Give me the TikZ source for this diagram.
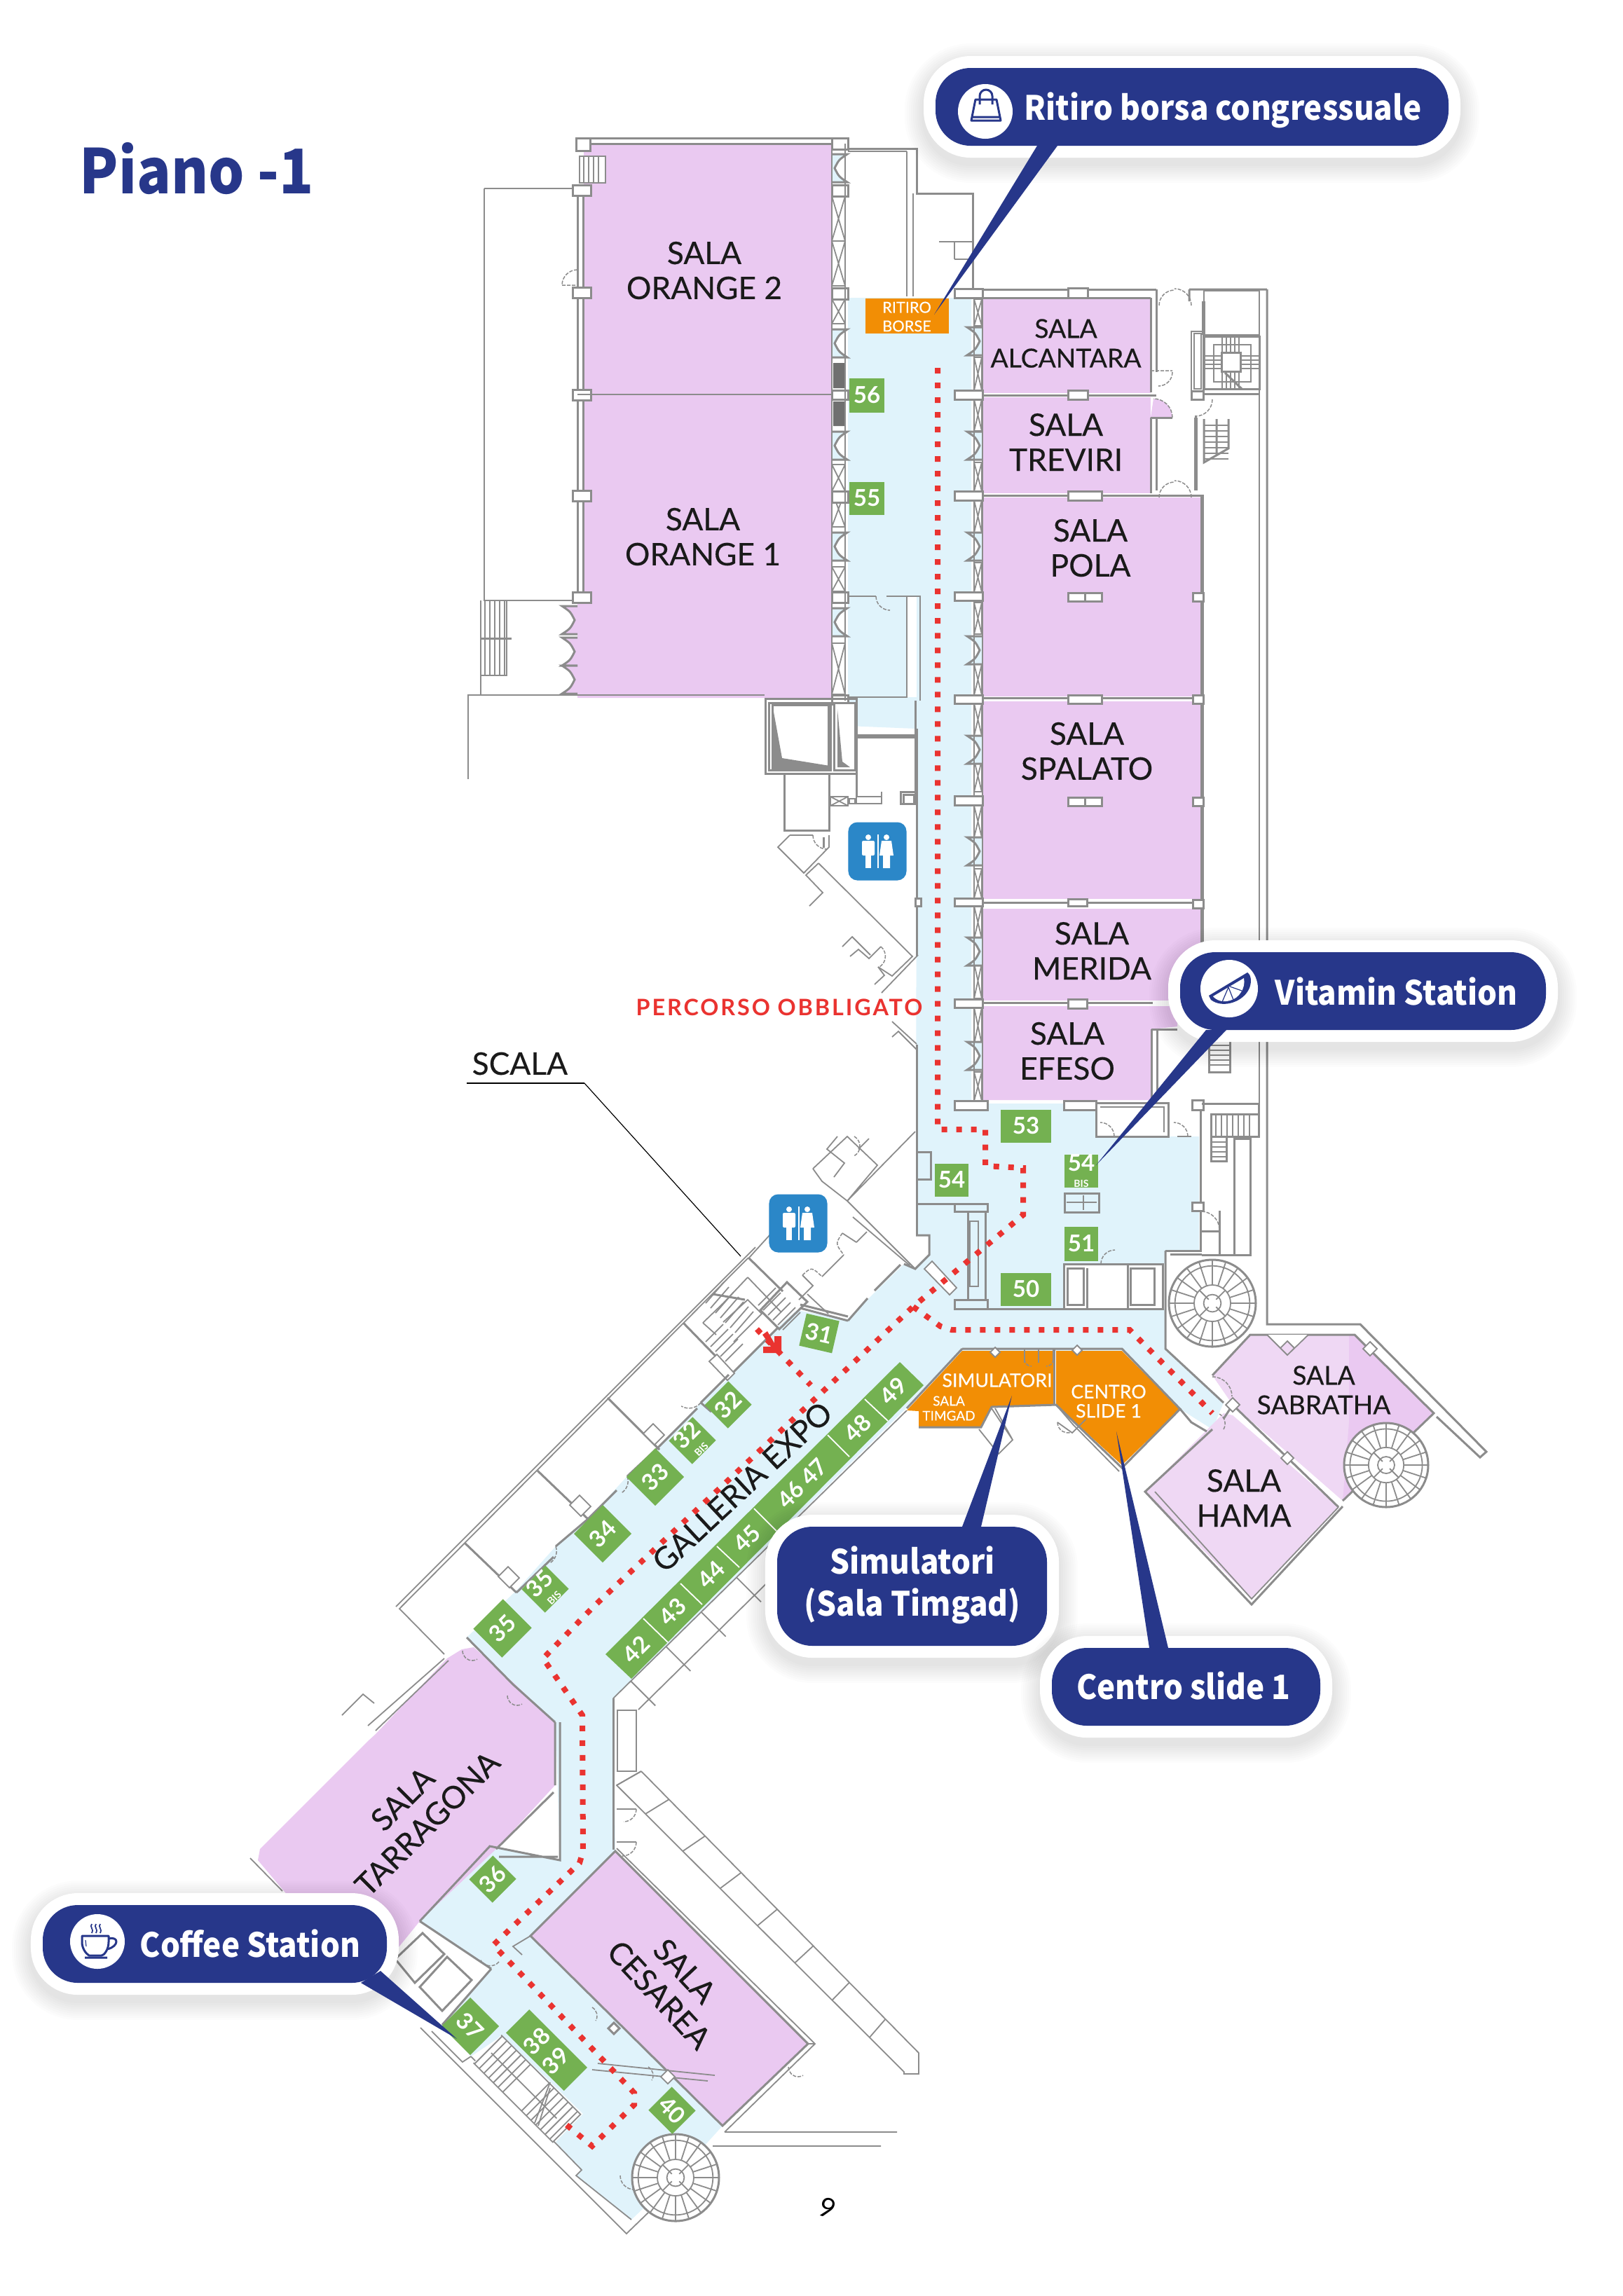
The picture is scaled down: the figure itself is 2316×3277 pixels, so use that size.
\documentclass[tikz,border=0pt]{standalone}
\usepackage{fontspec}
\usetikzlibrary{calc}
\newfontfamily\roomfamily[FakeBold=.3]{Lato}
\newfontfamily\plainfamily{Lato}
\newfontfamily\pillfamily[FakeStretch=.92]{Noto Sans CJK JP}
\definecolor{navyPill}{HTML}{27378A}
\definecolor{roomPurple}{HTML}{EAC9F1}
\definecolor{roomLight}{HTML}{EFD8F4}
\definecolor{hallBlue}{HTML}{E0F3FB}
\definecolor{tagGreen}{HTML}{74B151}
\definecolor{standOrange}{HTML}{F28E05}
\definecolor{routeRed}{HTML}{EA3330}
\definecolor{wcBlue}{HTML}{2B87C8}
\definecolor{wallGray}{HTML}{8C8C8C}
\definecolor{wallDark}{HTML}{707070}
\definecolor{inkBlack}{HTML}{1A1A1A}
\newcommand{\roomfont}{\roomfamily\fontsize{12.6}{14.2}\selectfont}
\newcommand{\roomsmall}{\roomfamily\fontsize{10.6}{12}\selectfont}
\newcommand{\tagfont}{\plainfamily\bfseries\fontsize{9.4}{9.4}\selectfont}
\newcommand{\pillfont}{\pillfamily\bfseries\fontsize{13.6}{17}\selectfont}
\tikzset{
  room/.style={fill=roomPurple},
  roomlabel/.style={font=\roomfont, align=center, text=inkBlack, inner sep=0pt},
  smalllabel/.style={font=\roomsmall, align=center, text=inkBlack, inner sep=0pt},
  standlabel/.style={font=\roomfamily\fontsize{6.2}{7.6}\selectfont, align=center, text=white, inner sep=0pt},
  tag/.style={fill=tagGreen, text=white, font=\tagfont, align=center, inner sep=0pt, minimum width=.48cm, minimum height=.47cm},
  tagtext/.style={text=white, font=\tagfont, inner sep=0pt},
  wall/.style={draw=wallGray, line width=.03cm},
  thinwall/.style={draw=wallGray, line width=.018cm},
  thickwall/.style={draw=wallGray, line width=.05cm},
  doorline/.style={draw=wallGray, line width=.015cm, dash pattern=on .05cm off .02cm},
  route/.style={draw=routeRed, line width=.08cm, dash pattern=on .08cm off .13cm},
  pilltext/.style={font=\pillfont, text=white, align=center, inner sep=0pt},
  icon/.style={draw=navyPill, line width=.03cm, line join=round},
  wcbox/.style={fill=wcBlue, rounded corners=.13cm, minimum size=.83cm, inner sep=0pt},
}
\newcommand{\xpanel}[4]{\draw[thinwall] (#1,#2) rectangle (#3,#4) (#1,#2) -- (#3,#4) (#1,#4) -- (#3,#2);}
\newcommand{\pier}[4]{\draw[wall,fill=white] (#1,#2) rectangle (#3,#4);}
\newcommand{\batdoor}[4]{\draw[wall,fill=#4] (#1,#2-20) -- (#1+#3*22,#2-20) .. controls (#1+#3*10,#2-12) .. (#1+#3*4,#2) .. controls (#1+#3*10,#2+12) .. (#1+#3*22,#2+20) -- (#1,#2+20);}
\newcommand{\spiralstair}[3]{%
  \draw[wall,fill=white] (#1,#2) circle (#3);
  \draw[thinwall] (#1,#2) circle (#3*.86) (#1,#2) circle (#3*.42) (#1,#2) circle (#3*.2);
  \foreach \ang in {0,18,...,342} {\draw[thinwall] ($(#1,#2)+(\ang:#3*.42)$) -- ($(#1,#2)+(\ang:#3)$);}
  \foreach \ang in {0,90,180,270} {\draw[thinwall] ($(#1,#2)+(\ang+45:#3*.12)$) -- ($(#1,#2)+(\ang+45:#3*.42)$);}
}
% blurred shadow and white ring of a label
\newcommand{\pillback}[5]{%
  \foreach \s in {40,46,...,88} {\draw[black,opacity=.011,line width=\s*.01cm,rounded corners=#5*.01cm,yshift=-.09cm] (#1,#2) rectangle (#3,#4);}
  \draw[white,fill=white,line width=.34cm,rounded corners=#5*.01cm] (#1,#2) rectangle (#3,#4);
}
\newcommand{\pillfront}[5]{\fill[navyPill,rounded corners=#5*.01cm] (#1,#2) rectangle (#3,#4);}
\begin{document}
\begin{tikzpicture}[x=.01cm,y=-.01cm]
\useasboundingbox (0,0) rectangle (2316,3277);
\fill[white] (0,0) rectangle (2316,3277);

% floors
\fill[hallBlue] (1210,425) -- (1386,425) -- (1386,1575) -- (1565,1575) -- (1565,1622) -- (1711,1622) -- (1711,1785) -- (1663,1785) -- (1663,1804) -- (1518,1804) -- (1518,1868) -- (1663,1868) -- (1663,1925) -- (1746,2002) -- (1730,2040) -- (1684,2011) -- (1601,1928) -- (1373,1928) -- (1293,2010) -- (875,2424) -- (878,2642) -- (757,2763) -- (1031,3034) -- (964,3108) -- (901,3168) -- (822,3105) -- (830,3097) -- (793,3057) -- (832,3017) -- (717,2905) -- (672,2935) -- (631,2890) -- (701,2810) -- (599,2742) -- (699,2635) -- (799,2655) -- (793,2458) -- (732,2404) -- (666,2337) -- (737,2270) -- (793,2207) -- (839,2168) -- (895,2107) -- (941,2064) -- (1000,2002) -- (1046,1962) -- (1109,1895) -- (1137,1870) -- (1209,1883) -- (1290,1804) -- (1306,1811) -- (1326,1791) -- (1326,1763) -- (1307,1763) -- (1308,1040) -- (1210,1036) -- cycle;
\fill[white] (1294,851) rectangle (1308,995);
\fill[room] (833,205) -- (1187,205) -- (1187,996) -- (824,996) -- (824,857) -- (833,857) -- cycle;
\fill[room] (1402,426) rectangle (1642,561);
\fill[room] (1402,567) rectangle (1642,704);
\fill[room] (1402,710) rectangle (1715,994);
\fill[room] (1402,1001) rectangle (1715,1283);
\fill[room] (1402,1297) rectangle (1713,1428);
\fill[room] (1402,1436) -- (1680,1436) -- (1680,1465) -- (1643,1469) -- (1643,1570) -- (1402,1570) -- cycle;
\fill[room] (659,2354) -- (676,2351) -- (732,2401) -- (792,2458) -- (792,2548) -- (708,2639) -- (599,2742) -- (560,2790) -- (440,2740) -- (368,2655) -- (371,2639) -- (525,2485) -- (536,2475) -- (638,2367) -- cycle;
\fill[room] (878,2642) -- (1153,2917) -- (1031,3034) -- (757,2763) -- cycle;
\fill[roomLight] (1784,1905) -- (1933,1905) -- (2046,2017) -- (1916,2142) -- (1759,2005) -- (1730,1963) -- cycle;
\fill[room] (1925,1905) -- (1933,1905) -- (2046,2017) -- (1916,2142) -- (1925,2030) -- cycle;
\fill[roomLight] (1634,2129) -- (1746,2017) -- (1759,2020) -- (1910,2151) -- (1786,2282) -- cycle;
\fill[standOrange] (1235,426) rectangle (1354,476);
\fill[standOrange] (1373,1928) -- (1504,1928) -- (1504,2005) -- (1415,2008) -- (1400,2037) -- (1311,2037) -- (1311,2014) -- (1294,2013) -- cycle;
\fill[standOrange] (1507,1928) -- (1601,1928) -- (1684,2011) -- (1601,2091) -- (1507,2005) -- cycle;

% upper block, outer walls
\draw[wall] (822,197) -- (1210,197) (1187,205) -- (833,205);
\draw[thinwall] (691,269) -- (822,269) (691,269) -- (691,857) -- (824,857);
\draw[thinwall] (668,1112) -- (668,992) -- (1091,992);
\draw[thinwall] (686,857) -- (686,991) (723,857) -- (723,964) -- (686,964);
\foreach \x in {692,699,...,720} {\draw[thinwall] (\x,857) -- (\x,964);}
\draw[wall] (686,911) -- (730,911);
\draw[wall] (824,280) -- (824,850) (832,280) -- (832,850);
\foreach \y in {264,410,556,700,845} {\pier{817}{\y}{843}{\y+15}}
\pier{822}{197}{842}{215}
\draw[thinwall] (1187,563) -- (824,563);
\fill[white] (827,223) rectangle (864,261);
\draw[thinwall] (827,223) rectangle (864,261);
\foreach \x in {833,840,...,860} {\draw[thinwall] (\x,223) -- (\x,261);}
\draw[doorline] (824,385) arc (-90:-180:22) (802,407) -- (824,407);
\foreach \y in {885,930,970} {\batdoor{824}{\y}{-1}{roomPurple}}
\draw[wall] (1210,212) -- (1308,212) -- (1308,276) -- (1388,276) -- (1388,411);
\draw[thinwall] (1294,216) -- (1294,423) (1210,216) -- (1294,216);
\draw[thinwall] (1303,276) -- (1303,423) (1340,345) -- (1388,345) (1362,370) -- (1388,370) (1362,345) -- (1362,370);
\draw[thinwall] (1294,851) -- (1294,995) -- (1210,995) (1294,851) -- (1313,851) -- (1313,1000);
\draw[thinwall] (1210,851) -- (1250,851) (1265,851) -- (1294,851);
\draw[doorline] (1250,851) arc (180:90:20);

% windows and doors of the corridor
\foreach \ya/\yb in {280/344,344/408,427/462,663/701,701/752,809/844,918/991} {\xpanel{1187}{\ya}{1206}{\yb}}
\foreach \ya/\yb in {427/465,510/557,570/615,660/701,714/760,803/845,860/905,948/992,1004/1050,1085/1130,1150/1195,1240/1282,1293/1340,1375/1425,1438/1490,1530/1571} {\xpanel{1390}{\ya}{1401}{\yb}}
\foreach \y in {240,490,636,780,888} {\batdoor{1187}{\y}{1}{hallBlue}}
\foreach \y in {487,636,780,928,1070,1215,1358,1507} {\batdoor{1402}{\y}{-1}{hallBlue}}
\foreach \ya/\yb in {197/213,264/280,411/427,557/570,701/717,845/860,992/1005} {\pier{1187}{\ya}{1210}{\yb}}
\fill[wallDark] (1189,518) rectangle (1206,554) (1189,573) rectangle (1206,608);
\draw[thinwall] (1187,205) -- (1187,996) (1206,205) -- (1206,1000);
\draw[thinwall] (1402,413) -- (1402,1570) (1390,425) -- (1390,1571);
\foreach \ya/\yb in {412/425,557/570,701/714,845/857,992/1004,1136/1149,1282/1293,1426/1438} {\pier{1362}{\ya}{1402}{\yb}}

% right rooms
\draw[wall] (1402,413) -- (1650,413) (1402,425) -- (1642,425) (1642,425) -- (1642,560) (1650,413) -- (1650,531);
\draw[wall] (1402,564) -- (1650,564) (1402,707) -- (1650,707) (1402,996) -- (1715,996) (1402,1288) -- (1715,1288) (1402,1431) -- (1645,1431);
\draw[wall] (1642,596) -- (1642,704) (1650,596) -- (1650,700);
\draw[thickwall] (1715,706) -- (1715,1430);
\draw[wall] (1650,707) -- (1715,707);
\foreach \xa/\ya/\xb/\yb in {1524/411/1552/425,1524/557/1552/570,1524/701/1572/714,1524/846/1548/858,1548/846/1572/858,1524/992/1572/1004,1524/1138/1548/1150,1548/1138/1572/1150,1524/1283/1551/1293,1524/1426/1551/1439,1518/1571/1564/1584,1362/1571/1409/1584} {\pier{\xa}{\ya}{\xb}{\yb}}
\foreach \y in {846,992,1138,1284} {\pier{1702}{\y}{1717}{\y+12}}
\draw[doorline] (1654,436) arc (180:270:22) (1700,436) arc (0:-90:24);
\draw[doorline] (1654,710) arc (180:270:22) (1700,710) arc (0:-90:24);
\draw[doorline] (1673,531) arc (0:90:20) (1642,529) -- (1673,529);
\fill[room] (1642,596) -- (1673,596) arc (0:-90:27) -- cycle;
\draw[doorline] (1673,596) arc (0:-90:27);
\draw[wall] (1642,596) -- (1673,596);
\draw[wall] (1697,413) -- (1808,413) (1697,413) -- (1697,430) (1808,413) -- (1808,1890) -- (1941,1890) -- (2121,2072) -- (2112,2080) -- (2050,2022);
\draw[thinwall] (1797,415) -- (1797,1600) (1718,415) rectangle (1797,478);
\draw[thickwall] (1717,430) -- (1717,478);
\draw[thinwall] (1700,473) rectangle (1717,558) (1704,476) rectangle (1714,555);
\draw[wall,fill=white] (1700,558) rectangle (1717,570);
\draw[wall] (1718,480) rectangle (1797,555) (1718,555) -- (1797,555) (1718,562) -- (1797,562);
\draw[thinwall] (1732,492) rectangle (1785,545);
\foreach \x in {1744,1750,...,1770} {\draw[thinwall] (\x,480) -- (\x,503) (\x,530) -- (\x,555);}
\foreach \y in {508,514,...,528} {\draw[thinwall] (1718,\y) -- (1743,\y) (1770,\y) -- (1797,\y);}
\draw[wall,fill=white] (1743,503) rectangle (1770,530);
\draw[wall] (1748,532) -- (1772,555);
\draw[thickwall] (1706,596) -- (1706,700);
\draw[doorline] (1730,570) arc (0:90:24);
\draw[wall] (1706,593) -- (1706,600);
\draw[wall] (1718,598) -- (1718,660) -- (1753,640) -- (1753,598) (1736,598) -- (1736,650);
\foreach \y in {607,615,...,655} {\draw[thinwall] (1718,\y) -- (1753,\y);}

% wing between the corridor and the toilets
\draw[wall] (1092,997) rectangle (1222,1104);
\draw[wall,fill=white] (1097,1003) rectangle (1185,1099) (1102,1006) rectangle (1182,1096);
\draw[wall,fill=white] (1190,1003) rectangle (1220,1099);
\fill[wallGray] (1102,1005) -- (1116,1082) -- (1184,1093) -- (1184,1095) -- (1102,1095) -- cycle;
\fill[wallGray] (1195,1012) -- (1202,1087) -- (1213,1095) -- (1195,1095) -- cycle;
\draw[wall] (1119,1104) rectangle (1183,1185);
\xpanel{1185}{1137}{1210}{1150}
\draw[thinwall] (1212,1140) rectangle (1220,1147) (1222,1137) rectangle (1258,1147) (1258,1130) -- (1258,1147);
\draw[wall] (1222,1052) -- (1306,1052) (1222,1052) -- (1222,1137) (1222,1049) -- (1306,1049) (1306,1000) -- (1306,1147);
\draw[wall] (1285,1130) rectangle (1306,1147) (1289,1134) rectangle (1304,1147);
\draw[wall] (1308,1040) -- (1308,1365) (1308,1491) -- (1308,1763);
\pier{1306}{1282}{1314}{1293}
\draw[thinwall] (1127,1192) -- (1110,1209) -- (1147,1246) -- (1183,1209) -- (1183,1192) (1127,1192) -- (1160,1192);
\draw[doorline] (1160,1192) arc (180:90:20);
\draw[wall] (1175,1195) -- (1175,1210);
\draw[thinwall] (1168,1232) -- (1302,1365) -- (1273,1393) -- (1253,1380) (1168,1232) -- (1150,1249) -- (1174,1274) -- (1155,1293);
\draw[thinwall] (1202,1351) -- (1216,1337) -- (1242,1363) (1213,1365) -- (1225,1355) -- (1240,1368) -- (1257,1351);
\draw[doorline] (1257,1351) arc (-50:60:18);
\draw[thinwall] (1253,1380) -- (1262,1392) -- (1248,1405) (1310,1363) -- (1258,1417);
\draw[thinwall] (1273,1458) -- (1308,1490) (1273,1480) -- (1282,1472) -- (1308,1498);

% lobby
\draw[wall] (1308,1644) -- (1328,1644) -- (1328,1683) -- (1308,1683);
\draw[wall] (1308,1718) -- (1362,1718);
\draw[wall] (1307,1763) -- (1326,1763) -- (1326,1791) -- (1306,1811) -- (1290,1804);
\draw[thinwall,fill=white] (1319,1811) -- (1330,1800) -- (1365,1838) -- (1355,1848) -- cycle;
\draw[wall] (1362,1718) rectangle (1409,1729) (1381,1729) rectangle (1406,1855) (1362,1855) rectangle (1409,1868);
\draw[thinwall] (1384,1743) rectangle (1396,1836);
\draw[wall] (1409,1868) -- (1518,1868);
\draw[wall] (1519,1703) rectangle (1568,1730);
\draw[thinwall] (1522,1716) -- (1565,1716) (1546,1706) -- (1546,1727);
\draw[wall] (1713,1575) -- (1713,1785) -- (1663,1785);
\pier{1701}{1570}{1717}{1584}
\pier{1701}{1716}{1717}{1728}
\draw[wall] (1564,1574) rectangle (1667,1622);
\draw[thinwall] (1570,1580) -- (1661,1580) -- (1661,1616);
\draw[doorline] (1590,1622) arc (0:-90:20) (1695,1622) arc (0:-90:20);
\draw[thinwall] (1680,1622) -- (1700,1622);
\draw[wall] (1518,1804) rectangle (1659,1868);
\draw[wall] (1551,1810) -- (1551,1868) (1609,1804) -- (1609,1868) (1613,1810) rectangle (1647,1862);
\draw[wall] (1523,1810) rectangle (1546,1862);
\draw[doorline] (1571,1804) arc (180:270:20);
\draw[wall] (1715,1791) -- (1784,1791) (1761,1625) rectangle (1784,1791) (1715,1575) -- (1796,1575) -- (1796,1622);
\draw[wall] (1728,1590) rectangle (1796,1622) (1728,1622) rectangle (1750,1657);
\foreach \x in {1735,1743,...,1790} {\draw[thinwall] (\x,1590) -- (\x,1622);}
\foreach \y in {1630,1637,...,1655} {\draw[thinwall] (1728,\y) -- (1750,\y);}
\draw[wall] (1740,1728) -- (1740,1791);
\draw[doorline] (1740,1755) arc (0:-90:26);
\draw[wall] (1713,1757) -- (1740,1757);
\draw[wall] (1725,1485) rectangle (1755,1530);
\foreach \y in {1492,1499,...,1526} {\draw[thinwall] (1725,\y) -- (1755,\y);}
\draw[wall] (1643,1469) -- (1643,1571) (1651,1469) -- (1651,1571) (1643,1469) -- (1680,1469);
\draw[wall] (1663,1785) -- (1663,1925) -- (1746,2002);
\draw[wall] (1670,1790) -- (1715,1790);
\spiralstair{1730}{1860}{62}

% stands and halls around
\draw[wall] (1373,1925) -- (1601,1925) -- (1684,2011) -- (1601,2095) -- (1507,2005) -- (1415,2008) -- (1400,2037) -- (1311,2037);
\draw[wall] (1373,1925) -- (1294,2010);
\draw[wall] (1504,1925) -- (1504,2005);
\draw[thinwall] (1462,1926) -- (1462,1945) (1482,1926) -- (1482,1945) (1503,1926) -- (1503,1945);
\draw[doorline] (1462,1940) arc (180:90:10) (1503,1940) arc (0:90:10);
\draw[thinwall,fill=white] (1413,1930) -- (1420,1923) -- (1427,1930) -- (1420,1937) -- cycle (1530,1927) -- (1537,1920) -- (1544,1927) -- (1537,1934) -- cycle;
\draw[thinwall] (1415,2010) -- (1445,2055) -- (1425,2075) -- (1397,2040) (1445,2055) -- (1420,2010);
\draw[thinwall] (1507,2005) -- (1531,2033) -- (1597,2100) (1509,2030) -- (1530,2045) -- (1550,2025);
\draw[doorline] (1509,2030) arc (180:80:15);
\draw[wall] (1684,2011) -- (1700,2030) -- (1722,2043) (1730,2040) -- (1634,2129) -- (1786,2290) -- (1916,2150);
\draw[thinwall] (1648,2129) -- (1786,2282) -- (1910,2151);
\draw[wall] (1730,1963) -- (1784,1905) -- (1933,1905) -- (2046,2017) -- (1916,2142);
\draw[wall] (1759,2005) -- (1910,2151);
\draw[wall] (1746,2025) -- (1759,2005);
\draw[doorline] (1730,1965) arc (-90:0:28) (1746,2040) arc (30:-60:16);
\draw[thinwall,fill=white] (1808,1905) -- (1837,1934) -- (1867,1905) (1827,1924) -- (1837,1914) -- (1847,1924) -- (1837,1934) -- cycle;
\draw[thinwall,fill=white] (1945,1925) -- (1955,1915) -- (1965,1925) -- (1955,1935) -- cycle;
\draw[thinwall,fill=white] (1828,2081) -- (1837,2072) -- (1846,2081) -- (1837,2090) -- cycle (1749,2005) -- (1759,1995) -- (1769,2005) -- (1759,2015) -- cycle;
\spiralstair{1978}{2091}{60}

% north side of the gallery
\draw[thinwall] (1078,1780) -- (565,2293) (1068,1795) -- (570,2296) -- (634,2361);
\draw[wall] (1068,1795) -- (1117,1843) (975,1888) -- (1045,1960) (1110,1895) -- (1047,1958);
\draw[thinwall,fill=white] (1012,1943) -- (1023,1933) -- (1048,1960) -- (1038,1970) -- cycle;
\draw[wall] (1123,1830) -- (1152,1858) -- (1112,1897) -- (1085,1870) -- cycle;
\foreach \k in {0,...,6} {\draw[thinwall] (1007+\k*7,1860+\k*7) -- (1033+\k*7,1830+\k*7);}
\foreach \k in {0,...,4} {\draw[thinwall] (1007+\k*7,1915+\k*7) -- (1032+\k*7,1890+\k*7);}
\foreach \k in {0,...,5} {\draw[thinwall] (1082+\k*7,1863+\k*7) -- (1107+\k*7,1838+\k*7);}
\draw[thinwall] (1032,1887) -- (1067,1855) -- (1087,1875) -- (1047,1915);
\draw[thinwall] (1067,1823) -- (1115,1873) (1067,1823) -- (1032,1860) (1003,1888) -- (1032,1860) (1003,1888) -- (1022,1905);
\draw[wall] (1017,1847) -- (1063,1855);
\draw[thinwall] (1209,1714) -- (1306,1811) (1217,1737) -- (1298,1806);
\draw[thinwall] (1173,1686) -- (1209,1714) -- (1306,1615) (1160,1668) -- (1209,1622) -- (1252,1663) -- (1209,1714) (1173,1686) -- (1160,1668);
\draw[thinwall] (1069,1795) -- (1099,1762);
\draw[thinwall] (1195,1622) -- (1180,1640) -- (1205,1660) -- (1190,1680) (1225,1640) -- (1240,1625);
\draw[doorline] (1219,1622) arc (-60:60:16);
\draw[doorline] (1202,1760) .. controls (1192,1775) .. (1204,1791);
\draw[thinwall] (1222,1773) -- (1237,1758) (1202,1760) -- (1222,1773) (1204,1791) -- (1173,1822);
\draw[doorline] (1145,1820) .. controls (1158,1808) .. (1173,1822);
\draw[thinwall] (1145,1820) -- (1160,1835) -- (1140,1855) (1152,1847) -- (1182,1875);
\draw[wall] (1142,1867) -- (1210,1885) (1142,1862) -- (1210,1879) (1210,1885) -- (1238,1853) (1248,1842) -- (1285,1805);
\foreach \xa/\ya/\xb/\yb in {867/1995/941/2069,767/2099/839/2168,663/2202/737/2273} {\draw[wall] (\xa,\ya) -- (\xb,\yb);}
\draw[wall] (1000,2002) -- (1040,1962) (1000,2002) -- (1015,2015) (941,2064) -- (995,2010) (895,2107) -- (941,2064) (839,2168) -- (880,2127) (737,2273) -- (790,2222) (793,2207) -- (839,2168);
\draw[doorline] (1000,2002) arc (40:120:22) (895,2107) arc (-20:60:20) (793,2207) arc (-20:60:20);
\draw[thinwall,fill=white] (918,2046) -- (932,2032) -- (948,2048) -- (934,2062) -- cycle (813,2148) -- (827,2134) -- (843,2150) -- (829,2164) -- cycle (711,2250) -- (725,2236) -- (741,2252) -- (727,2266) -- cycle;

% south of the gallery
\draw[wall] (875,2424) -- (875,2640);
\draw[thinwall] (875,2424) -- (1294,2013) (911,2440) -- (1180,2175);
\foreach \t in {.06,.18,.30,.42,.54} {\draw[thinwall] ($(875,2424)!\t!(1294,2013)$) -- ++(35,35);}
\draw[thinwall] (881,2441) rectangle (908,2528) (880,2582) -- (908,2582) (880,2629) -- (908,2629);
\draw[doorline] (908,2582) arc (0:90:18) (908,2629) arc (0:90:20);
\coordinate (rowNa) at (915,2528);
\coordinate (rowNb) at (1311,2930);
\coordinate (rowSa) at (880,2548);
\coordinate (rowSb) at (1290,2957);
\draw[thinwall] (rowNa) -- (rowNb) -- (1311,2960) -- (1290,2960) -- (rowSb) -- (rowSa) -- (rowNa);
\foreach \t in {0,.1,.23,.36,.49,.62,.75,.88} {\draw[thinwall] ($(rowNa)!\t!(rowNb)$) -- ($(rowSa)!\t!(rowSb)$);}

% lower halls
\draw[wall] (878,2642) -- (1153,2917) -- (1031,3034) -- (757,2763) -- cycle;
\draw[thinwall] (880,2638) -- (1163,2917) -- (1034,3043) (1034,3043) -- (1280,3043) (1017,3063) -- (1257,3063);
\draw[wall] (792,2458) -- (792,2548) (799,2458) -- (799,2655) -- (699,2635) -- (599,2742) (708,2639) -- (790,2558) (712,2650) -- (796,2650);
\draw[wall] (666,2337) -- (732,2404) -- (792,2458);
\draw[doorline] (724,2420) arc (180:60:14) (660,2356) arc (180:60:14);
\draw[thinwall] (357,2652) -- (403,2699) (488,2448) -- (518,2418) -- (534,2431) (525,2463) -- (634,2367) (536,2470) -- (640,2370);
\draw[wall,fill=white] (564,2796) -- (592,2830) -- (634,2789) -- (603,2759) -- cycle (599,2836) -- (631,2870) -- (673,2826) -- (638,2793) -- cycle;
\draw[wall] (599,2742) -- (701,2810) (701,2810) -- (631,2890);
\draw[doorline] (712,2800) arc (40:150:16);
\draw[thinwall] (757,2763) -- (732,2778) -- (745,2790);
\draw[thinwall] (600,2894) -- (894,3188) -- (925,3158) (616,2899) -- (660,2943) -- (672,2935);
\draw[thinwall] (672,2935) -- (830,3097) -- (822,3105) -- (901,3168);
\begin{scope}[shift={(752,2981)},rotate=-45]
  \fill[white] (-80,-28) rectangle (80,28);
  \draw[thinwall] (-80,-28) -- (80,-28) -- (80,28) -- (-80,28);
  \foreach \t in {-78,-68.5,...,-16} {\draw[thinwall] (\t,-28) -- (\t,28);}
  \foreach \t in {17,26.5,...,80} {\draw[thinwall] (\t,-28) -- (\t,28);}
  \draw[thinwall] (-72,0) -- (60,0);
\end{scope}
\draw[thinwall] (763,3030) -- (785,2972) (768,3034) -- (785,2980);
\draw[thinwall] (845,2954) -- (1010,2970) (853,2945) -- (1020,2962);
\draw[thinwall,fill=white] (943,2964) -- (953,2954) -- (963,2964) -- (953,2974) -- cycle;
\draw[wall,fill=white] (868,2895) -- (876,2887) -- (884,2895) -- (876,2903) -- cycle;
\draw[doorline] (845,2865) arc (-60:30:14) (925,2950) arc (-60:30:14);
\spiralstair{964}{3108}{62}
\draw[doorline] (885,3105) arc (180:90:20);
\draw[thinwall] (1153,2917) -- (1163,2917);
\draw[doorline] (1125,2950) arc (180:60:14);

% stands and tags
\fill[tagGreen] (1284,1944) -- (1318,1977) -- (901,2396) -- (864,2361) -- cycle;
\foreach \xa/\ya/\xb/\yb in {1234/1997/1267/2028,1181/2048/1212/2079,1076/2153/1108/2185,1023/2207/1055/2237,971/2260/1002/2290,918/2310/953/2344} {\draw[white,line width=.018cm] (\xa,\ya) -- (\xb,\yb);}
\node[tagtext,rotate=45] (t49) at (1275,1985) {49};
\node[tagtext,rotate=45] (t48) at (1224,2038) {48};
\node[tagtext,rotate=45] (t46) at (1145,2117) {46 47};
\node[tagtext,rotate=45] (t45) at (1066,2196) {45};
\node[tagtext,rotate=45] (t44) at (1015,2247) {44};
\node[tagtext,rotate=45] (t43) at (960,2300) {43};
\node[tagtext,rotate=45] (t42) at (908,2354) {42};
\node[tag,minimum height=.49cm,minimum width=.49cm] (t56) at (1237,564) {56};
\node[tag,minimum height=.47cm,minimum width=.49cm] (t55) at (1237,711) {55};
\node[tag,minimum width=.72cm] (t53) at (1464,1607) {53};
\node[tag] (t54) at (1358,1684) {54};
\node[tag] (t54b) at (1543,1671) {54\\[-3pt]{\fontsize{4}{4}\selectfont BIS}};
\node[tag,minimum height=.49cm] (t51) at (1543,1775) {51};
\node[tag,minimum width=.72cm] (t50) at (1464,1840) {50};
\node[tag,rotate=-13] (t31) at (1169,1903) {31};
\node[tag,rotate=45] (t32) at (1039,2005) {32};
\node[tag,rotate=45] (t32b) at (988,2056) {32\\[-3pt]{\fontsize{4}{4}\selectfont BIS}};
\node[tag,rotate=45,minimum width=.58cm,minimum height=.58cm] (t33) at (935,2108) {33};
\node[tag,rotate=45,minimum width=.58cm,minimum height=.58cm] (t34) at (860,2189) {34};
\node[tag,rotate=45] (t35b) at (778,2268) {35\\[-3pt]{\fontsize{4}{4}\selectfont BIS}};
\node[tag,rotate=45,minimum width=.6cm,minimum height=.58cm] (t35) at (717,2324) {35};
\node[tag,rotate=45] (t36) at (703,2682) {36};
\node[tag,rotate=-45,minimum width=.58cm,minimum height=.58cm] (t37) at (671,2892) {37};
\node[tag,rotate=-45,minimum width=1.17cm,minimum height=.47cm] (t38box) at (780,2926) {};
\node[tagtext,rotate=45] (t38) at (766,2913) {38};
\node[tagtext,rotate=45] (t39) at (793,2941) {39};
\node[tag,rotate=-45] (t40) at (959,3012) {40};

% room names
\node[roomlabel] (orange2) at (1005,386) {SALA\\ORANGE 2};
\node[roomlabel] (orange1) at (1003,766) {SALA\\ORANGE 1};
\node[smalllabel] (alcantara) at (1521,490) {SALA\\ALCANTARA};
\node[roomlabel] (treviri) at (1521,631) {SALA\\TREVIRI};
\node[roomlabel] (pola) at (1556,782) {SALA\\POLA};
\node[roomlabel] (spalato) at (1551,1072) {SALA\\SPALATO};
\node[roomlabel] (merida) at (1558,1357) {SALA\\MERIDA};
\node[roomlabel] (efeso) at (1523,1500) {SALA\\EFESO};
\node[smalllabel] (sabratha) at (1889,1984) {SALA\\SABRATHA};
\node[roomlabel] (hama) at (1775,2138) {SALA\\HAMA};
\node[roomlabel,rotate=45] (tarragona) at (592,2585) {SALA\\TARRAGONA};
\node[roomlabel,rotate=-47] (cesarea) at (959,2830) {SALA\\CESAREA};
\node[roomlabel,rotate=43] (galleria) at (1059,2122) {GALLERIA EXPO};
\node[standlabel] (ritiroBox) at (1294,452) {RITIRO\\BORSE};
\node[standlabel,font=\roomfamily\fontsize{7.6}{9}\selectfont] (simBox) at (1423,1970) {SIMULATORI};
\node[standlabel,font=\roomfamily\fontsize{5.4}{6}\selectfont] (timgadBox) at (1354,2010) {SALA\\TIMGAD};
\node[standlabel,font=\roomfamily\fontsize{7.6}{7.8}\selectfont] (centroBox) at (1582,2000) {CENTRO\\SLIDE 1};
\node[text=black, inner sep=0pt, font=\plainfamily\fontsize{11}{12}\selectfont, rotate=-20] (stray) at (1181,3151) {9};

% route
\draw[route] (1338,525) -- (1338,1612) -- (1406,1612) -- (1406,1664) -- (1460,1667) -- (1460,1734) -- (1303,1865) -- (847,2293) -- (775,2367) -- (831,2448) -- (832,2642) -- (827,2659) -- (704,2776) -- (905,2987) -- (905,3004) -- (845,3063) -- (799,3025);
\draw[route] (1303,1865) -- (1342,1893) -- (1358,1898) -- (1612,1898) -- (1730,2017);
\draw[route] (1080,1897) -- (1157,1977);
\fill[routeRed] (1089,1922) -- (1100,1922) -- (1088,1905) -- (1095,1900) -- (1105,1917) -- (1105,1907) -- (1115,1907) -- (1115,1931) -- (1089,1931) -- cycle;

% toilets
\node[wcbox] (wcUpper) at (1252,1215) {};
\node[wcbox] (wcLower) at (1139,1746) {};
\foreach \cx/\cy in {1252/1215,1139/1746}{
  \begin{scope}[shift={(\cx,\cy)}]
    \fill[white] (0,-24) rectangle (1.5,24);
    \fill[white] (-13,-20) circle (4) (13,-20) circle (4);
    \fill[white,rounded corners=.02cm] (-22,-15) rectangle (-4,6);
    \fill[white] (-17,0) rectangle (-9,24);
    \fill[white] (6,-15) -- (20,-15) -- (23,6) -- (18,6) -- (18,24) -- (8,24) -- (8,6) -- (3,6) -- cycle;
  \end{scope}
}

% text without a room
\node[anchor=west, inner sep=0pt, font=\pillfamily\bfseries\fontsize{25}{25}\selectfont, text=navyPill] (title) at (113,241) {Piano -1};
\node[anchor=east, inner sep=0pt, font=\plainfamily\bfseries\addfontfeature{LetterSpace=9}\fontsize{9.2}{10}\selectfont, text=routeRed] (mustPath) at (1317,1438) {PERCORSO OBBLIGATO};
\node[anchor=west, inner sep=0pt, font=\roomfamily\fontsize{12.6}{13}\selectfont, text=inkBlack] (scalaLabel) at (673,1518) {SCALA};
\coordinate (scalaElbow) at (834,1546);
\coordinate (scalaEnd) at (1057,1793);
\draw[black,line width=.025cm] (666,1546) -- (scalaElbow);
\draw[black,line width=.012cm] (scalaElbow) -- (scalaEnd);

% labels with pointers
\coordinate (ritiroTip) at (1333,449);
\coordinate (vitaminTip) at (1564,1663);
\coordinate (simTip) at (1444,1992);
\coordinate (centroTip) at (1593,2043);
\coordinate (coffeeTip) at (652,2910);
\pillback{1335}{97}{2067}{208}{50}
\fill[navyPill] (1480,208) -- (1509,208) -- (ritiroTip) -- cycle;
\pillfront{1335}{97}{2067}{208}{50}
\pillback{1684}{1359}{2206}{1470}{50}
\fill[navyPill] (1721,1470) -- (1750,1470) -- (vitaminTip) -- cycle;
\pillfront{1684}{1359}{2206}{1470}{50}
\pillback{1109}{2179}{1494}{2349}{50}
\fill[navyPill] (1373,2179) -- (1400,2179) -- (simTip) -- cycle;
\pillfront{1109}{2179}{1494}{2349}{50}
\pillback{1501}{2352}{1884}{2463}{50}
\fill[navyPill] (1640,2352) -- (1667,2352) -- (centroTip) -- cycle;
\pillfront{1501}{2352}{1884}{2463}{50}
\pillback{61}{2719}{552}{2830}{50}
\fill[navyPill] (515,2830) -- (543,2813) -- (coffeeTip) -- cycle;
\pillfront{61}{2719}{552}{2830}{50}
\node[pilltext,anchor=west] (ritiroText) at (1461,157) {Ritiro borsa congressuale};
\node[pilltext,anchor=west] (vitaminText) at (1819,1415) {Vitamin Station};
\node[pilltext] (simText) at (1302,2262) {Simulatori\\(Sala Timgad)};
\node[pilltext] (centroText) at (1689,2406) {Centro slide 1};
\node[pilltext,anchor=west] (coffeeText) at (199,2774) {Coffee Station};

% icons
\fill[white] (1406,159) circle (39) (1754,1411) circle (41) (139,2771) circle (39);
\draw[icon] (1392,142) -- (1422,142) -- (1428,172) -- (1386,172) -- cycle (1387,167) -- (1427,167);
\draw[icon] (1398,149) -- (1398,137) arc (180:360:9) -- (1416,149);
\fill[navyPill] (1725,1421) -- (1780,1388) .. controls (1786,1392) and (1786,1402) .. (1783,1410) .. controls (1775,1430) and (1745,1440) .. (1728,1427) -- cycle;
\fill[white] (1731,1422) -- (1775,1396) .. controls (1778,1410) and (1768,1425) .. (1755,1428) .. controls (1745,1431) and (1736,1428) .. (1731,1422) -- cycle;
\draw[icon,line width=.012cm] (1753,1409) -- (1744,1430) (1753,1409) -- (1760,1427) (1755,1408) -- (1772,1414);
\draw[icon] (117,2763) -- (155,2763) -- (155,2772) .. controls (155,2783) and (148,2791) .. (145,2791) -- (127,2791) .. controls (122,2788) and (117,2780) .. (117,2772) -- cycle;
\draw[icon] (155,2767) .. controls (170,2763) and (170,2778) .. (153,2782) (121,2794) -- (153,2794);
\draw[icon,line width=.012cm] (122,2769) -- (123,2778);
\foreach \sx in {131,137,143} {\draw[icon,line width=.018cm] (\sx,2746) .. controls (\sx-4,2750) and (\sx+4,2754) .. (\sx,2759);}
\end{tikzpicture}
\end{document}
